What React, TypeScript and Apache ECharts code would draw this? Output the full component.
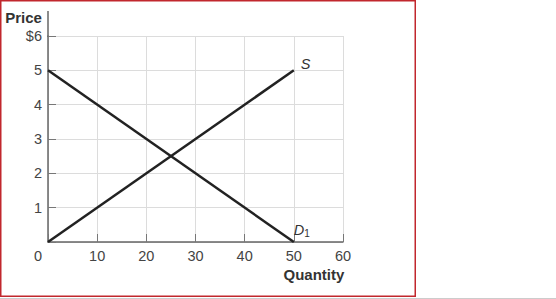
import React, { useEffect, useRef } from "react";
import * as echarts from "echarts";

const xTicks = [0, 10, 20, 30, 40, 50, 60];
const yTicks = [0, 1, 2, 3, 4, 5, 6];
const demandD1: [number, number][] = [[0, 5], [50, 0]];
const supplyS: [number, number][] = [[0, 0], [50, 5]];
const xTitle = "Quantity";
const yTitle = "Price";

const FONT = "'Liberation Sans', Arial, sans-serif";

export default function App() {
  const ref = useRef<HTMLDivElement>(null);
  useEffect(() => {
    if (!ref.current) return;
    const chart = echarts.init(ref.current, null, { renderer: "svg" });
    chart.setOption({
      animation: false,
      grid: { left: 48, right: 213, top: 36, bottom: 57 },
      xAxis: {
        type: "value",
        min: xTicks[0],
        max: xTicks[xTicks.length - 1],
        interval: 10,
        axisLine: { show: true, onZero: false, lineStyle: { color: "#666", width: 1.5 } },
        axisTick: { show: true, inside: true, length: 8, lineStyle: { color: "#777", width: 1 } },
        axisLabel: {
          color: "#444",
          fontSize: 14.5,
          fontFamily: FONT,
          margin: 6,
          formatter: (v: number) => (v === 0 ? "" : String(v)),
        },
        splitLine: { show: true, lineStyle: { color: "#dcdcdc", width: 1 } },
      },
      yAxis: {
        type: "value",
        min: yTicks[0],
        max: yTicks[yTicks.length - 1],
        interval: 1,
        axisLine: { show: true, onZero: false, lineStyle: { color: "#666", width: 1.5 } },
        axisTick: { show: true, inside: true, length: 8, lineStyle: { color: "#777", width: 1 } },
        axisLabel: {
          color: "#444",
          fontSize: 14.5,
          fontFamily: FONT,
          margin: 6,
          formatter: (v: number) => (v === 0 ? "" : v === 6 ? "$" + v : String(v)),
        },
        splitLine: { show: true, lineStyle: { color: "#dcdcdc", width: 1 } },
      },
      series: [
        {
          type: "line",
          data: demandD1,
          symbol: "none",
          lineStyle: { color: "#222", width: 2.5 },
          endLabel: {
            show: true,
            formatter: "{d|D}{s|1}",
            offset: [-8, -12],
            rich: {
              d: { fontSize: 14.5, fontStyle: "italic", fontFamily: FONT, color: "#333" },
              s: { fontSize: 10, fontFamily: FONT, color: "#333", verticalAlign: "bottom", padding: [7, 0, 0, 0] },
            },
          },
        },
        {
          type: "line",
          data: supplyS,
          symbol: "none",
          lineStyle: { color: "#222", width: 2.5 },
          endLabel: {
            show: true,
            formatter: "S",
            offset: [-1, -6],
            fontSize: 14.5,
            fontStyle: "italic",
            fontFamily: FONT,
            color: "#333",
          },
        },
      ],
    });
    const o = chart.convertToPixel({ gridIndex: 0 }, [0, 0]) as number[];
    const xEnd = chart.convertToPixel({ gridIndex: 0 }, [60, 0]) as number[];
    const qx = chart.convertToPixel({ gridIndex: 0 }, [50, 0]) as number[];
    chart.setOption({
      graphic: [
        {
          type: "line",
          shape: { x1: o[0], y1: 11, x2: o[0], y2: 37 },
          style: { stroke: "#666", lineWidth: 1.5 },
        },
        {
          type: "text",
          x: o[0] - 10,
          y: o[1] + 14,
          style: { text: "0", fill: "#444", font: "14.5px " + FONT, align: "center", verticalAlign: "middle" },
        },
        {
          type: "text",
          x: 23.5,
          y: 17.5,
          style: { text: yTitle, fill: "#333", font: "bold 15px " + FONT, align: "center", verticalAlign: "middle" },
        },
        {
          type: "text",
          x: (qx[0] + xEnd[0]) / 2 - 4.5,
          y: o[1] + 32.5,
          style: { text: xTitle, fill: "#333", font: "bold 15px " + FONT, align: "center", verticalAlign: "middle" },
        },
        {
          type: "rect",
          shape: { x: 0.75, y: 0.75, width: 414.5, height: 295.5 },
          style: { fill: "none", stroke: "#c1272d", lineWidth: 1.5 },
        },
        {
          type: "line",
          shape: { x1: 0, y1: 298.5, x2: 556, y2: 298.5 },
          style: { stroke: "#cccccc", lineWidth: 1 },
        },
      ],
    });
    return () => chart.dispose();
  }, []);
  return (
    <div
      ref={ref}
      style={{ position: "fixed", left: 0, top: 0, width: 556, height: 299, background: "#fff" }}
    />
  );
}
